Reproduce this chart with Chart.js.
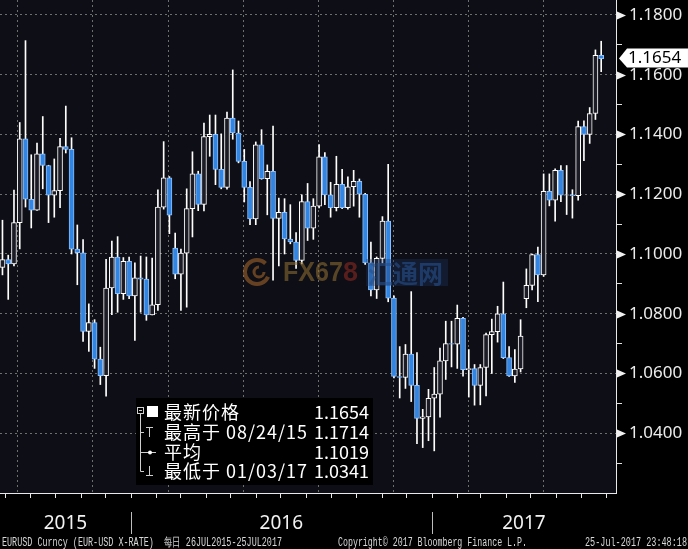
<!DOCTYPE html>
<html>
<head>
<meta charset="utf-8">
<script src="https://cdn.jsdelivr.net/npm/chart.js@4.4.1/dist/chart.umd.min.js"></script>
<style>
    html, body { margin: 0; padding: 0; background: #000; }
    #wrap { width: 688px; height: 549px; }
</style>
</head>
<body>
<div id="wrap"><canvas id="myChart" width="688" height="549"></canvas></div>
<script>
// Data Definitions (weekly OHLC, EUR-USD)
const rangeStart = '2015-07-26';
const rangeEnd = '2017-07-25';
const firstWeek = '2015-07-27';

const opens = [
    1.0955, 1.0981, 1.0967, 1.1105, 1.1385, 1.1183, 1.1147, 1.1335, 1.1296, 1.1197,
    1.1212, 1.1359, 1.1350, 1.1016, 1.1004, 1.0741, 1.0770, 1.0648, 1.0593, 1.0886,
    1.0990, 1.0867, 1.0975, 1.0860, 1.0920, 1.0916, 1.0796, 1.0830, 1.1157, 1.1255,
    1.1020, 1.0932, 1.1003, 1.1152, 1.1268, 1.1166, 1.1393, 1.1400, 1.1283, 1.1223,
    1.1455, 1.1405, 1.1310, 1.1223, 1.1117, 1.1365, 1.1252, 1.1277, 1.1119, 1.1139,
    1.1050, 1.1040, 1.0978, 1.1175, 1.1086, 1.1160, 1.1325, 1.1198, 1.1155, 1.1233,
    1.1155, 1.1225, 1.1243, 1.1200, 1.0970, 1.0880, 1.0985, 1.1110, 1.0852, 1.0590,
    1.0587, 1.0665, 1.0560, 1.0450, 1.0455, 1.0517, 1.0531, 1.0642, 1.0700, 1.0698,
    1.0785, 1.0613, 1.0616, 1.0560, 1.0620, 1.0730, 1.0740, 1.0800, 1.0653, 1.0592,
    1.0615, 1.0850, 1.0895, 1.0998, 1.0930, 1.1210, 1.1180, 1.1280, 1.1197, 1.1198,
    1.1195, 1.1426, 1.1400, 1.1470, 1.1665
];
const highs = [
    1.1113, 1.0996, 1.1214, 1.1440, 1.1714, 1.1332, 1.1371, 1.1460, 1.1297, 1.1318,
    1.1387, 1.1495, 1.1389, 1.1097, 1.1048, 1.0833, 1.0780, 1.0688, 1.0982, 1.1043,
    1.1058, 1.0988, 1.0990, 1.0970, 1.0993, 1.0990, 1.0986, 1.1215, 1.1376, 1.1259,
    1.1070, 1.1016, 1.1218, 1.1342, 1.1277, 1.1438, 1.1465, 1.1465, 1.1402, 1.1475,
    1.1616, 1.1445, 1.1350, 1.1242, 1.1375, 1.1416, 1.1298, 1.1428, 1.1187, 1.1185,
    1.1165, 1.1072, 1.1198, 1.1236, 1.1185, 1.1366, 1.1339, 1.1240, 1.1327, 1.1283,
    1.1258, 1.1280, 1.1251, 1.1203, 1.1040, 1.0990, 1.1125, 1.1300, 1.0860, 1.0690,
    1.0697, 1.0874, 1.0670, 1.0480, 1.0547, 1.0620, 1.0685, 1.0775, 1.0775, 1.0829,
    1.0788, 1.0680, 1.0630, 1.0630, 1.0735, 1.0782, 1.0825, 1.0906, 1.0690, 1.0680,
    1.0780, 1.0950, 1.1000, 1.1023, 1.1268, 1.1268, 1.1285, 1.1296, 1.1296, 1.1215,
    1.1445, 1.1446, 1.1490, 1.1683, 1.1712
];
const lows = [
    1.0930, 1.0848, 1.0960, 1.1017, 1.1157, 1.1087, 1.1146, 1.1218, 1.1105, 1.1123,
    1.1155, 1.1338, 1.1000, 1.0897, 1.0707, 1.0674, 1.0617, 1.0563, 1.0524, 1.0797,
    1.0805, 1.0848, 1.0850, 1.0711, 1.0805, 1.0778, 1.0796, 1.0811, 1.1150, 1.1068,
    1.0917, 1.0811, 1.0822, 1.1057, 1.1145, 1.1144, 1.1327, 1.1232, 1.1218, 1.1217,
    1.1384, 1.1305, 1.1174, 1.1098, 1.1098, 1.1250, 1.1131, 1.0912, 1.0960, 1.1000,
    1.1034, 1.0952, 1.0967, 1.1045, 1.1049, 1.1154, 1.1165, 1.1123, 1.1144, 1.1152,
    1.1150, 1.1160, 1.1123, 1.0965, 1.0860, 1.0851, 1.0970, 1.0840, 1.0585, 1.0518,
    1.0550, 1.0506, 1.0365, 1.0352, 1.0375, 1.0341, 1.0454, 1.0580, 1.0622, 1.0617,
    1.0591, 1.0521, 1.0494, 1.0495, 1.0525, 1.0600, 1.0705, 1.0650, 1.0590, 1.0570,
    1.0605, 1.0820, 1.0880, 1.0840, 1.0925, 1.1161, 1.1110, 1.1175, 1.1132, 1.1120,
    1.1180, 1.1312, 1.1370, 1.1450, 1.1610
];
const closes = [
    1.0981, 1.0967, 1.1105, 1.1385, 1.1183, 1.1147, 1.1335, 1.1296, 1.1197, 1.1212,
    1.1359, 1.1350, 1.1016, 1.1004, 1.0741, 1.0770, 1.0648, 1.0593, 1.0886, 1.0990,
    1.0867, 1.0975, 1.0860, 1.0920, 1.0916, 1.0796, 1.0830, 1.1157, 1.1255, 1.1130,
    1.0932, 1.1003, 1.1152, 1.1268, 1.1166, 1.1393, 1.1400, 1.1283, 1.1223, 1.1455,
    1.1405, 1.1310, 1.1223, 1.1117, 1.1365, 1.1252, 1.1277, 1.1119, 1.1139, 1.1050,
    1.1040, 1.0978, 1.1175, 1.1086, 1.1160, 1.1325, 1.1198, 1.1155, 1.1233, 1.1155,
    1.1225, 1.1243, 1.1200, 1.0970, 1.0880, 1.0985, 1.1110, 1.0852, 1.0590, 1.0587,
    1.0665, 1.0560, 1.0450, 1.0455, 1.0517, 1.0531, 1.0642, 1.0700, 1.0698, 1.0785,
    1.0613, 1.0616, 1.0560, 1.0620, 1.0730, 1.0740, 1.0800, 1.0653, 1.0592, 1.0615,
    1.0725, 1.0895, 1.0998, 1.0930, 1.1210, 1.1180, 1.1280, 1.1197, 1.1198, 1.1195,
    1.1426, 1.1400, 1.1470, 1.1665, 1.1654
];

// Axis / tick definitions
const yTickValues = [1.03, 1.04, 1.05, 1.06, 1.07, 1.08, 1.09, 1.10, 1.11, 1.12, 1.13, 1.14, 1.15, 1.16, 1.17, 1.18];
const quarterStarts = ['2015-10-01', '2016-01-01', '2016-04-01', '2016-07-01', '2016-10-01', '2017-01-01', '2017-04-01', '2017-07-01'];
const yearLabels = ['2015', '2016', '2017'];
const lastPrice = 1.1654;
const axisDays = 749;

const legendRows = [
    { label: '最新价格', value: '1.1654' },
    { label: '最高于 08/24/15', value: '1.1714' },
    { label: '平均', value: '1.1019' },
    { label: '最低于 01/03/17', value: '1.0341' }
];
const footerLeft = 'EURUSD Curncy (EUR-USD X-RATE)  每日 26JUL2015-25JUL2017';
const footerMid = 'Copyright\u00A9 2017 Bloomberg Finance L.P.';
const footerRight = '25-Jul-2017 23:48:18';

function dayOf(s) {
    return Math.round((Date.parse(s) - Date.parse(rangeStart)) / 86400000);
}

const plotBg = '#0e0e16';
const upColor = '#ffffff';
const downColor = '#3285e0';

// Build candle data
const firstDay = dayOf(firstWeek);
const bodies = opens.map((o, i) => ({ x: firstDay + 7 * i + 2, y: [o, closes[i]] }));
const wicks = opens.map((o, i) => ({ x: firstDay + 7 * i + 2, y: [lows[i], highs[i]] }));
const bodyFill = opens.map((o, i) => closes[i] >= o ? '#1c1c26' : downColor);
const bodyBorder = opens.map((o, i) => closes[i] >= o ? upColor : '#8cc0ff');

function isMajor(v) {
    return Math.round(v * 100) % 2 === 0;
}

// Month tick list for the bottom axis
const monthTicks = [];
for (let y = 2015; y <= 2017; y++) {
    for (let m = 1; m <= 12; m++) {
        const d = dayOf(y + '-' + String(m).padStart(2, '0') + '-01');
        if (d > 0 && d < axisDays) monthTicks.push(d);
    }
}

// Background + decorations plugin
const decorations = {
    id: 'decorations',
    beforeDraw(chart) {
        const { ctx, chartArea: a } = chart;
        ctx.save();
        ctx.fillStyle = '#000';
        ctx.fillRect(0, 0, chart.width, chart.height);
        ctx.fillStyle = plotBg;
        ctx.fillRect(a.left, a.top, a.right - a.left, a.bottom - a.top);
        ctx.restore();
    },
    afterDatasetsDraw(chart) {
        // watermark
        const { ctx } = chart;
        ctx.save();
        ctx.globalAlpha = 0.6;
        ctx.strokeStyle = '#a0642a';
        ctx.lineWidth = 4;
        ctx.beginPath();
        ctx.arc(257, 272, 12, 0.4, Math.PI * 1.75);
        ctx.stroke();
        ctx.lineWidth = 3;
        ctx.beginPath();
        ctx.arc(259, 272, 5, 0, Math.PI * 1.5);
        ctx.stroke();
        ctx.textBaseline = 'middle';
        ctx.font = 'bold 28px "Liberation Sans"';
        ctx.fillStyle = '#8a6a30';
        ctx.fillText('FX67', 283, 273, 60);
        ctx.fillStyle = '#8a2a22';
        ctx.fillText('8', 343, 273, 15);
        ctx.globalAlpha = 0.35;
        ctx.fillStyle = '#1a3560';
        ctx.fillRect(366, 259, 82, 27);
        ctx.globalAlpha = 0.6;
        ctx.fillStyle = '#27508c';
        ctx.font = 'bold 25px "Noto Sans CJK SC"';
        ctx.fillText('汇通网', 368, 273, 80);
        ctx.restore();
    },
    afterDraw(chart) {
        const { ctx, chartArea: a, scales } = chart;
        const xs = scales.x, ys = scales.y;
        ctx.save();

        // triangles on major y ticks
        ctx.fillStyle = '#f0f0f0';
        yTickValues.filter(isMajor).forEach(v => {
            const py = Math.round(ys.getPixelForValue(v)) + 0.5;
            ctx.beginPath();
            ctx.moveTo(a.right + 1, py - 4);
            ctx.lineTo(a.right + 10, py);
            ctx.lineTo(a.right + 1, py + 4);
            ctx.closePath();
            ctx.fill();
        });

        // last price box
        const lp = ys.getPixelForValue(lastPrice);
        ctx.fillStyle = '#ffffff';
        ctx.beginPath();
        ctx.moveTo(a.right + 3, lp);
        ctx.lineTo(a.right + 11, lp - 10);
        ctx.lineTo(chart.width, lp - 10);
        ctx.lineTo(chart.width, lp + 9);
        ctx.lineTo(a.right + 11, lp + 9);
        ctx.closePath();
        ctx.fill();
        ctx.fillStyle = '#000';
        ctx.font = '17px "Noto Sans"';
        ctx.textAlign = 'left';
        ctx.textBaseline = 'middle';
        ctx.fillText(lastPrice.toFixed(4), a.right + 12, lp);

        // bottom axis line + month ticks
        ctx.strokeStyle = '#e8e8e8';
        ctx.lineWidth = 1;
        ctx.beginPath();
        ctx.moveTo(a.left, a.bottom + 0.5);
        ctx.lineTo(a.right, a.bottom + 0.5);
        monthTicks.forEach(d => {
            const px = Math.round(xs.getPixelForValue(d)) + 0.5;
            ctx.moveTo(px, a.bottom);
            ctx.lineTo(px, a.bottom + 5);
        });
        ctx.stroke();

        // year separators and labels
        ctx.fillStyle = '#f2f2f2';
        ctx.font = '19px "Noto Sans"';
        ctx.textAlign = 'center';
        ctx.textBaseline = 'middle';
        yearLabels.forEach((yl, i) => {
            const s = Math.max(0, dayOf(yl + '-01-01'));
            const e = Math.min(axisDays, dayOf((+yl + 1) + '-01-01'));
            const cx = (xs.getPixelForValue(s) + xs.getPixelForValue(e)) / 2;
            ctx.fillText(yl, cx, 524);
            if (i > 0) {
                const px = Math.round(xs.getPixelForValue(s)) + 0.5;
                ctx.strokeStyle = '#bdbdbd';
                ctx.beginPath();
                ctx.moveTo(px, 512);
                ctx.lineTo(px, 534);
                ctx.stroke();
            }
        });

        // footer
        ctx.fillStyle = '#d8d8d8';
        ctx.font = '12px "Liberation Mono"';
        ctx.textAlign = 'left';
        ctx.fillText(footerLeft, 2, 543, 280);
        ctx.fillText(footerMid, 338, 543, 189);
        ctx.textAlign = 'right';
        ctx.fillText(footerRight, 687, 543, 102);

        // legend box
        ctx.fillStyle = '#000';
        ctx.fillRect(136, 398, 237, 87);
        const rowY = [412, 432, 452, 471];
        ctx.strokeStyle = '#cfcfcf';
        ctx.fillStyle = '#ffffff';
        ctx.lineWidth = 1;
        // tree box with minus
        ctx.strokeRect(137.5, 407.5, 6, 6);
        ctx.beginPath();
        ctx.moveTo(139, 410.5); ctx.lineTo(142, 410.5);
        ctx.moveTo(140.5, 414); ctx.lineTo(140.5, rowY[3] + 0.5);
        for (let i = 1; i < 4; i++) {
            ctx.moveTo(140.5, rowY[i] + 0.5); ctx.lineTo(144, rowY[i] + 0.5);
        }
        // high marker
        ctx.moveTo(146, rowY[1] - 4.5); ctx.lineTo(153, rowY[1] - 4.5);
        ctx.moveTo(149.5, rowY[1] - 4.5); ctx.lineTo(149.5, rowY[1] + 5);
        // average marker
        ctx.moveTo(144, rowY[2] + 0.5); ctx.lineTo(156, rowY[2] + 0.5);
        // low marker
        ctx.moveTo(149.5, rowY[3] - 5); ctx.lineTo(149.5, rowY[3] + 4.5);
        ctx.moveTo(146, rowY[3] + 4.5); ctx.lineTo(153, rowY[3] + 4.5);
        ctx.stroke();
        ctx.beginPath();
        ctx.arc(150, rowY[2] + 0.5, 2, 0, Math.PI * 2);
        ctx.fill();
        ctx.fillRect(147, 406, 11, 11);

        ctx.font = '18px "Noto Sans CJK SC"';
        ctx.textBaseline = 'middle';
        legendRows.forEach((r, i) => {
            ctx.textAlign = 'left';
            ctx.letterSpacing = '1px';
            ctx.fillText(r.label, 164, rowY[i]);
            ctx.textAlign = 'right';
            ctx.letterSpacing = '0px';
            ctx.fillText(r.value, 369, rowY[i]);
        });
        ctx.restore();
    }
};

const ctx = document.getElementById('myChart').getContext('2d');
new Chart(ctx, {
    type: 'bar',
    data: {
        datasets: [
            {
                label: 'wick',
                data: wicks,
                backgroundColor: '#ffffff',
                borderWidth: 0,
                barThickness: 1,
                grouped: false,
                order: 2
            },
            {
                label: 'body',
                data: bodies,
                backgroundColor: bodyFill,
                borderColor: bodyBorder,
                borderWidth: 1,
                borderSkipped: false,
                barThickness: 5,
                grouped: false,
                order: 1
            }
        ]
    },
    options: {
        responsive: false,
        animation: false,
        layout: {
            padding: { top: 0, right: 0, bottom: 56, left: 0 }
        },
        scales: {
            x: {
                type: 'linear',
                min: 0,
                max: axisDays,
                offset: false,
                afterBuildTicks: s => { s.ticks = quarterStarts.map(d => ({ value: dayOf(d) })); },
                afterFit: s => { s.height = 0; s.paddingLeft = 0; s.paddingRight = 0; },
                ticks: { display: false },
                grid: { color: '#6e6e6e', drawTicks: false },
                border: { display: false, dash: [2, 3] }
            },
            y: {
                position: 'right',
                min: 1.02,
                max: 1.185,
                afterBuildTicks: s => { s.ticks = yTickValues.map(v => ({ value: v })); },
                afterFit: s => { s.width = 72; s.paddingTop = 0; s.paddingBottom = 0; },
                ticks: {
                    color: '#ececec',
                    padding: 7,
                    font: { family: 'Noto Sans', size: 17 },
                    callback: v => isMajor(v) ? v.toFixed(4) : ''
                },
                grid: {
                    color: c => (c.tick && isMajor(c.tick.value)) ? '#6e6e6e' : 'transparent',
                    tickColor: c => (c.tick && isMajor(c.tick.value)) ? 'transparent' : '#e0e0e0',
                    tickLength: 6
                },
                border: { color: '#e8e8e8', width: 1, dash: [2, 3] }
            }
        },
        plugins: {
            legend: { display: false },
            tooltip: { enabled: false }
        }
    },
    plugins: [decorations]
});
</script>
</body>
</html>
